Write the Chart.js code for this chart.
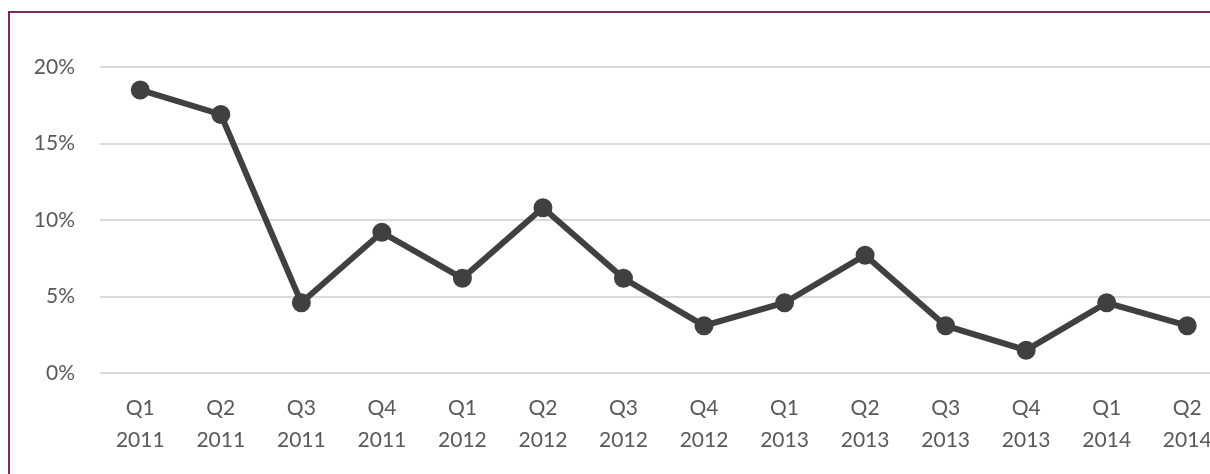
<!DOCTYPE html>
<html>
<head>
<meta charset="utf-8">
<script src="https://cdn.jsdelivr.net/npm/chart.js@4"></script>
<style>
  html, body { margin: 0; padding: 0; background: #fff; overflow: hidden; }
  #box {
    position: absolute; left: 8px; top: 11px;
    width: 1230px; height: 470px;
    border: 2px solid #7b2d5f;
    background: #fff;
  }
  #wrap { position: absolute; left: 0; top: 0; width: 1230px; height: 462px; }
</style>
</head>
<body>
<div id="box"><div id="wrap"><canvas id="line-chart"></canvas></div></div>
<script>
// Dữ liệu
const quarters = ['Q1', 'Q2', 'Q3', 'Q4', 'Q1', 'Q2', 'Q3', 'Q4', 'Q1', 'Q2', 'Q3', 'Q4', 'Q1', 'Q2'];
const years = ['2011', '2011', '2011', '2011', '2012', '2012', '2012', '2012', '2013', '2013', '2013', '2013', '2014', '2014'];
const rates = [18.5, 16.9, 4.6, 9.2, 6.2, 10.8, 6.2, 3.1, 4.6, 7.7, 3.1, 1.5, 4.6, 3.1];
const yTicks = [0, 5, 10, 15, 20];

const labels = quarters.map((q, i) => [q, years[i]]);

const config = {
    type: 'line',
    data: {
        labels: labels,
        datasets: [{
            data: rates,
            borderColor: '#404040',
            backgroundColor: '#404040',
            borderWidth: 6,
            pointRadius: 6.5,
            pointHoverRadius: 6.5,
            tension: 0
        }]
    },
    options: {
        responsive: true,
        maintainAspectRatio: false,
        animation: false,
        layout: { padding: { top: 54, right: 5, bottom: 0, left: 0 } },
        plugins: {
            legend: { display: false },
            tooltip: { enabled: false }
        },
        scales: {
            x: {
                offset: true,
                grid: { display: false, drawTicks: false },
                border: { display: false },
                ticks: {
                    color: '#595959',
                    font: { family: 'Lato', size: 21, lineHeight: 1.52 },
                    padding: 19,
                    maxRotation: 0,
                    autoSkip: false
                }
            },
            y: {
                min: 0,
                max: 20,
                afterBuildTicks: (axis) => { axis.ticks = yTicks.map(v => ({ value: v })); },
                afterFit: (axis) => { axis.width = 90; },
                grid: { color: '#d9d9d9', lineWidth: 2, drawTicks: false },
                border: { display: false },
                ticks: {
                    color: '#595959',
                    font: { family: 'Lato', size: 21 },
                    padding: 25,
                    callback: (v) => v + '%'
                }
            }
        }
    }
};

const lineChart = new Chart(document.getElementById('line-chart'), config);
</script>
</body>
</html>
